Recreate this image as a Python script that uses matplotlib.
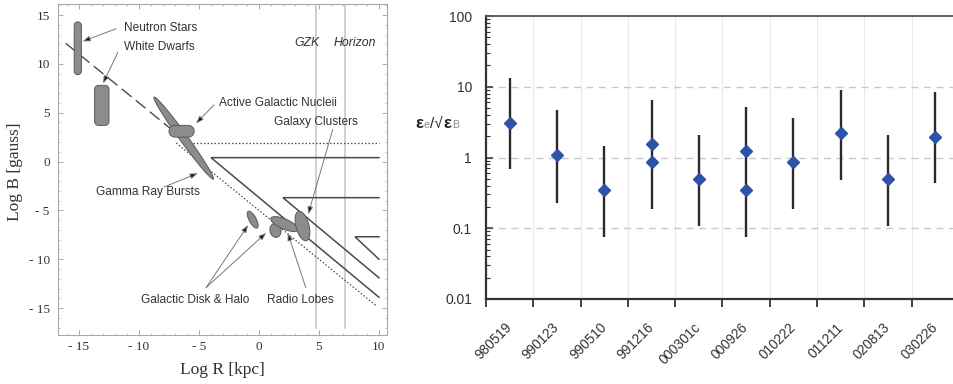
import numpy as np
import matplotlib
matplotlib.use('Agg')
import matplotlib.pyplot as plt
from matplotlib.patches import Polygon
from matplotlib.ticker import FixedLocator, FuncFormatter, NullFormatter, LogLocator
from matplotlib.offsetbox import TextArea, HPacker, AnnotationBbox

plt.rcParams['font.family'] = ['Liberation Sans', 'DejaVu Sans']

# ---------------- Left panel data (Hillas diagram) ----------------
# rounded boxes: x range, y range (log R, log B)
box_names = ['Neutron Stars', 'White Dwarfs', 'Active Galactic Nucleii']
box_xr = [(-15.4, -14.8), (-13.7, -12.5), (-7.5, -5.4)]
box_yr = [(8.9, 14.3), (3.7, 7.8), (2.5, 3.7)]
box_radius_px = [10, 4, 10]

# ellipses: major-axis endpoints
ell_names = ['Gamma Ray Bursts', 'Galactic Disk', 'Radio Lobes core', 'Radio Lobes', 'Galaxy Clusters']
ell_p1 = [(-8.75, 6.6), (-0.9, -5.1), (1.25, -6.35), (1.0, -5.8), (3.3, -5.1)]
ell_p2 = [(-3.8, -1.8), (-0.15, -6.8), (1.5, -7.75), (3.25, -7.0), (3.95, -8.1)]
ell_halfwidth_px = [4.0, 3.5, 5.5, 5.0, 6.5]

# reference lines
dashed_R = [-16.1, -6.5]
dashed_B = [12.1, 2.5]
dotted_diag_R = [-6.9, 9.8]
dotted_diag_B = [1.9, -14.8]
dotted_horiz_R = [-5.5, 10.0]
dotted_horiz_B = [1.9, 1.9]
solid_R = [[10.0, -4.0, 10.0], [10.0, 2.0, 10.0], [10.0, 8.0, 10.0]]
solid_B = [[0.4, 0.4, -13.9], [-3.7, -3.7, -11.9], [-7.7, -7.7, -10.0]]
limit_R = [4.75, 7.17]
limit_names = ['GZK', 'Horizon']
limit_label_R = [4.0, 8.0]

# annotations: label, text position, arrow start, arrow end
ann_labels = ['Neutron Stars', 'White Dwarfs', 'Active Galactic Nucleii', 'Galaxy Clusters',
              'Gamma Ray Bursts', 'Galactic Disk & Halo', 'Radio Lobes']
ann_text_xy = [(-11.25, 13.7), (-11.25, 11.75), (-3.3, 5.96), (1.25, 4.08),
               (-13.6, -3.08), (-9.83, -14.17), (0.67, -14.17)]
arrow_from = [(-11.9, 13.6), (-11.75, 11.2), (-3.75, 5.8), (6.15, 3.3),
              (-7.9, -2.6), (-4.4, -12.9), (-4.4, -12.9), (3.9, -12.9)]
arrow_to = [(-14.7, 12.3), (-13.0, 8.0), (-5.25, 3.9), (4.1, -5.4),
            (-5.1, -1.2), (-0.9, -6.5), (0.6, -7.3), (2.4, -7.3)]

# ---------------- Right panel data ----------------
grb = ['980519', '990123', '990510', '991216', '000301c', '000926', '010222', '011211', '020813', '030226']
ratio = [3.1, 1.1, 0.35, 1.57, 0.49, 1.23, 0.87, 2.2, 0.49, 1.95]
ratio_lo = [0.68, 0.23, 0.075, 0.19, 0.107, 0.075, 0.19, 0.48, 0.107, 0.43]
ratio_hi = [13.2, 4.7, 1.45, 6.6, 2.1, 5.2, 3.6, 9.0, 2.05, 8.3]
second_grb = ['991216', '000926']
second_ratio = [0.87, 0.35]

W, H = 954, 384
fig = plt.figure(figsize=(W / 100, H / 100), dpi=100)

# ================= Left panel =================
ax = fig.add_axes([58 / W, (H - 335) / H, (387 - 58) / W, (335 - 4) / H])
ax.set_xlim(-16.75, 10.67)
ax.set_ylim(-17.76, 16.13)

serif = 'Liberation Serif'
for s in ax.spines.values():
    s.set_color('#a8a8a8')
    s.set_linewidth(0.8)
ax.xaxis.set_major_locator(FixedLocator([-15, -10, -5, 0, 5, 10]))
ax.yaxis.set_major_locator(FixedLocator([-15, -10, -5, 0, 5, 10, 15]))
ax.xaxis.set_minor_locator(FixedLocator(np.arange(-16, 11, 1)))
ax.yaxis.set_minor_locator(FixedLocator(np.arange(-17, 17, 1)))
fmt = FuncFormatter(lambda v, p: f'- {abs(int(round(v)))}' if v < -0.01 else f'{int(round(v))}')
ax.xaxis.set_major_formatter(fmt)
ax.yaxis.set_major_formatter(fmt)
ax.tick_params(which='both', direction='in', top=True, right=True, color='#aaaaaa')
ax.tick_params(which='major', length=3.5, width=0.7)
ax.tick_params(which='minor', length=1.5, width=0.5)
ax.tick_params(axis='x', which='major', pad=4, labelsize=9.5, labelcolor='#333333')
ax.tick_params(axis='y', which='major', pad=6, labelsize=9.5, labelcolor='#333333')
for lab in ax.get_xticklabels() + ax.get_yticklabels():
    lab.set_fontfamily(serif)

fig.text(222 / W, 1 - 370 / H, 'Log R [kpc]', family=serif, fontsize=12.5,
         ha='center', va='center', color='#333333')
fig.text(15 / W, 1 - 172 / H, 'Log B [gauss]', family=serif, fontsize=12.5,
         ha='center', va='center', rotation=90, color='#333333')

line_col = '#4a4a4a'
ax.plot(dashed_R, dashed_B, color=line_col, lw=1.0, dashes=(9, 4), zorder=2)
ax.plot(dotted_diag_R, dotted_diag_B, color=line_col, lw=0.9, dashes=(1.2, 1.6), zorder=2)
ax.plot(dotted_horiz_R, dotted_horiz_B, color=line_col, lw=0.9, dashes=(1.2, 1.6), zorder=2)
for rr, bb in zip(solid_R, solid_B):
    ax.plot(rr, bb, color=line_col, lw=1.1, zorder=2, solid_joinstyle='miter')
for r in limit_R:
    ax.plot([r, r], [-17.0, 16.13], color='#c4c4c4', lw=1.1, zorder=1)
for name, r in zip(limit_names, limit_label_R):
    ax.text(r, 12.1, name, style='italic', fontsize=8.8, ha='center', va='center', color='#333333')

T = ax.transData


def rrect_poly(xr, yr, rad):
    x0, y0 = T.transform((xr[0], yr[0]))
    x1, y1 = T.transform((xr[1], yr[1]))
    x0, x1 = sorted((x0, x1))
    y0, y1 = sorted((y0, y1))
    rad = min(rad, (x1 - x0) / 2, (y1 - y0) / 2)
    pts = []
    for (cx, cy, a0) in [(x1 - rad, y1 - rad, 0), (x0 + rad, y1 - rad, 90),
                         (x0 + rad, y0 + rad, 180), (x1 - rad, y0 + rad, 270)]:
        th = np.radians(np.linspace(a0, a0 + 90, 15))
        pts.extend(zip(cx + rad * np.cos(th), cy + rad * np.sin(th)))
    return T.inverted().transform(np.array(pts))


def ellipse_poly(p1, p2, hw):
    a = T.transform(p1)
    b = T.transform(p2)
    c = (a + b) / 2
    d = b - a
    L = np.hypot(*d)
    u = d / L
    v = np.array([-u[1], u[0]])
    t = np.linspace(0, 2 * np.pi, 120)
    pts = c + np.outer(L / 2 * np.cos(t), u) + np.outer(hw * np.sin(t), v)
    return T.inverted().transform(pts)


fill_c, edge_c = '#8c8c8c', '#5a5a5a'
for xr, yr, rad in zip(box_xr, box_yr, box_radius_px):
    ax.add_patch(Polygon(rrect_poly(xr, yr, rad), closed=True, fc=fill_c, ec=edge_c, lw=0.7, zorder=4))
for p1, p2, hw in zip(ell_p1, ell_p2, ell_halfwidth_px):
    ax.add_patch(Polygon(ellipse_poly(p1, p2, hw), closed=True, fc=fill_c, ec=edge_c, lw=0.7, zorder=3))

for lab, xy in zip(ann_labels, ann_text_xy):
    ax.text(xy[0], xy[1], lab, fontsize=8.6, ha='left', va='center', color='#333333', zorder=6)
for s, e in zip(arrow_from, arrow_to):
    ax.annotate('', xy=e, xytext=s, zorder=6,
                arrowprops=dict(arrowstyle='-|>,head_length=0.45,head_width=0.16',
                                ec='#777777', fc='#111111', lw=0.7, shrinkA=0, shrinkB=0))

# ================= Right panel =================
ax2 = fig.add_axes([486 / W, (H - 299) / H, 473 / W, (299 - 16) / H])
ax2.set_yscale('log')
ax2.set_ylim(0.01, 100)
ax2.set_xlim(-0.5, len(grb) - 0.5)
xpos = np.arange(len(grb))

for b in np.arange(0.5, len(grb) - 0.5, 1):
    ax2.axvline(b, color='#e9e9e9', lw=0.8, zorder=0)
for yv in [0.1, 1, 10]:
    ax2.axhline(yv, color='#c8c8c8', lw=1.0, dashes=(5, 4), zorder=0)

ax2.vlines(xpos, ratio_lo, ratio_hi, color='#2a2a2a', lw=1.7, zorder=3)
ax2.plot(xpos, ratio, 'D', color='#2d53a6', ms=6.6, mec='#2d53a6', zorder=4, lw=0)
sec_x = [grb.index(g) for g in second_grb]
ax2.plot(sec_x, second_ratio, 'D', color='#2d53a6', ms=6.6, mec='#2d53a6', zorder=4, lw=0)

ax2.spines['right'].set_visible(False)
ax2.spines['left'].set_color('#333333')
ax2.spines['left'].set_linewidth(1.6)
ax2.spines['bottom'].set_color('#333333')
ax2.spines['bottom'].set_linewidth(1.6)
ax2.spines['top'].set_color('#555555')
ax2.spines['top'].set_linewidth(1.3)

ax2.xaxis.set_major_locator(FixedLocator(np.arange(-0.5, len(grb), 1)))
ax2.xaxis.set_major_formatter(NullFormatter())
ax2.set_xticks(xpos, minor=True)
ax2.set_xticklabels(grb, minor=True, rotation=45, ha='right', va='center',
                    rotation_mode='anchor', fontsize=9.8, color='#333333')
ax2.tick_params(axis='x', which='major', direction='out', length=6, width=1.3, color='#333333')
ax2.tick_params(axis='x', which='minor', length=0, pad=19)

ax2.yaxis.set_major_locator(FixedLocator([0.01, 0.1, 1, 10, 100]))
ax2.yaxis.set_major_formatter(FuncFormatter(lambda v, p: {0.01: '0.01', 0.1: '0.1', 1: '1', 10: '10', 100: '100'}.get(round(v, 3), '')))
ax2.yaxis.set_minor_locator(LogLocator(base=10, subs=np.arange(2, 10)))
ax2.yaxis.set_minor_formatter(NullFormatter())
ax2.tick_params(axis='y', which='major', direction='in', length=5, width=1.1, color='#333333',
                labelsize=10, labelcolor='#333333', pad=10)
ax2.tick_params(axis='y', which='minor', direction='in', length=3, width=0.8, color='#333333')

# y label:  eps_e / sqrt eps_B
parts = [TextArea('ε', textprops=dict(fontsize=12, weight='bold', color='#222222')),
         TextArea('e', textprops=dict(fontsize=7.5, color='#888888')),
         TextArea('/√', textprops=dict(fontsize=11, color='#222222')),
         TextArea('ε', textprops=dict(fontsize=12, weight='bold', color='#222222')),
         TextArea('B', textprops=dict(fontsize=7.5, color='#888888'))]
pack = HPacker(children=parts, align='bottom', pad=0, sep=0.5)
ab = AnnotationBbox(pack, (437, H - 123), xycoords='figure pixels', frameon=False,
                    box_alignment=(0.5, 0.5))
fig.add_artist(ab)

fig.savefig('out.png', dpi=100)
